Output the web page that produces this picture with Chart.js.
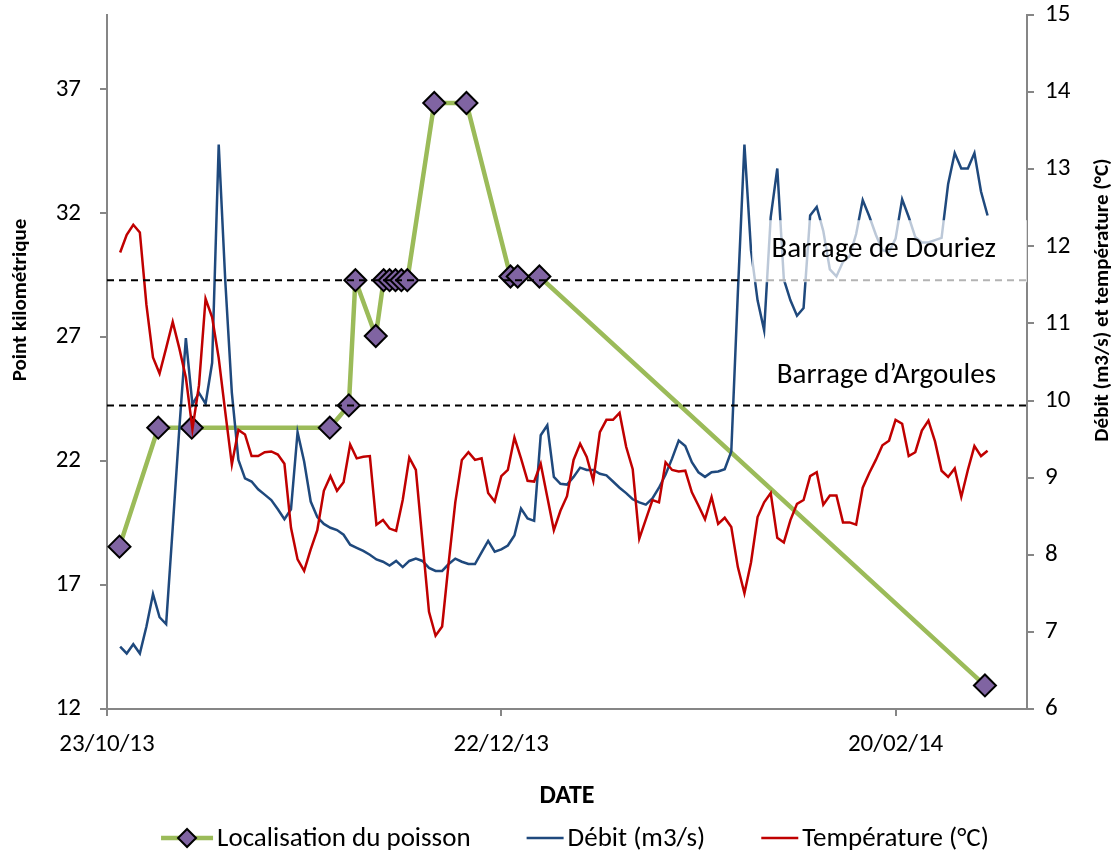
<!DOCTYPE html>
<html>
<head>
<meta charset="utf-8">
<script src="https://cdn.jsdelivr.net/npm/chart.js@4.4.1/dist/chart.umd.min.js"></script>
<style>
  html, body { margin: 0; padding: 0; background: #fff; }
  #wrap { width: 1118px; height: 856px; }
</style>
</head>
<body>
<div id="wrap"><canvas id="myChart" width="1118" height="856"></canvas></div>
<script>
// x values are days counted from 23/10/13
const dateTicks = [0, 60, 120];
const pkTicks = [12, 17, 22, 27, 32, 37];

// fish locations
const fishDays = [1.9, 7.8, 12.9, 33.9, 36.8, 37.8, 40.9, 42.1, 43.0, 43.9, 44.8, 45.7, 49.8, 54.7, 61.4, 62.5, 65.8, 133.6];
const fishPK = [18.55, 23.35, 23.35, 23.35, 24.25, 29.3, 27.05, 29.3, 29.3, 29.3, 29.3, 29.3, 36.45, 36.45, 29.45, 29.45, 29.45, 12.95];

// daily values, the first one is day 2
const firstDay = 2;
const debit = [
  6.81, 6.72, 6.84, 6.72, 7.07, 7.49, 7.19, 7.10, 8.35, 9.63,
  10.81, 9.95, 10.10, 9.96, 10.49, 13.32, 11.55, 10.10, 9.23, 8.99,
  8.95, 8.85, 8.78, 8.71, 8.59, 8.46, 8.59, 9.59, 9.21, 8.69,
  8.49, 8.40, 8.35, 8.32, 8.26, 8.13, 8.09, 8.05, 8.00, 7.94,
  7.91, 7.86, 7.92, 7.84, 7.92, 7.95, 7.92, 7.83, 7.79, 7.79,
  7.88, 7.95, 7.91, 7.88, 7.88, 8.03, 8.18, 8.04, 8.07, 8.12,
  8.25, 8.60, 8.47, 8.44, 9.55, 9.68, 9.01, 8.92, 8.91, 9.01,
  9.13, 9.10, 9.10, 9.05, 9.03, 8.95, 8.87, 8.80, 8.72, 8.68,
  8.65, 8.73, 8.87, 9.04, 9.25, 9.48, 9.41, 9.20, 9.07, 9.01,
  9.07, 9.08, 9.11, 9.34, 11.4, 13.32, 11.95, 11.30, 10.91, 12.38,
  13.01, 11.57, 11.30, 11.10, 11.20, 12.40, 12.51, 12.20, 11.70, 11.61,
  11.80, 11.87, 12.16, 12.60, 12.39, 12.15, 11.95, 11.93, 12.10, 12.61,
  12.38, 12.12, 12.05, 12.05, 12.08, 12.11, 12.81, 13.21, 13.01, 13.01,
  13.21, 12.71, 12.40
];
const temperature = [
  11.92, 12.15, 12.28, 12.18, 11.24, 10.56, 10.35, 10.68, 11.02, 10.68,
  10.30, 9.63, 10.20, 11.32, 11.08, 10.55, 9.85, 9.17, 9.62, 9.56,
  9.28, 9.28, 9.33, 9.34, 9.30, 9.18, 8.35, 7.94, 7.79, 8.07,
  8.32, 8.83, 9.02, 8.83, 8.94, 9.43, 9.25, 9.27, 9.28, 8.39,
  8.45, 8.34, 8.31, 8.71, 9.26, 9.10, 8.18, 7.26, 6.95, 7.07,
  7.90, 8.68, 9.23, 9.33, 9.23, 9.25, 8.80, 8.69, 9.02, 9.10,
  9.52, 9.25, 8.96, 8.95, 9.18, 8.75, 8.32, 8.57, 8.76, 9.23,
  9.44, 9.27, 8.96, 9.59, 9.75, 9.75, 9.84, 9.40, 9.11, 8.21,
  8.46, 8.71, 8.68, 9.20, 9.10, 9.08, 9.09, 8.81, 8.64, 8.46,
  8.75, 8.40, 8.48, 8.36, 7.84, 7.50, 7.90, 8.49, 8.68, 8.80,
  8.22, 8.16, 8.45, 8.66, 8.71, 9.02, 9.07, 8.65, 8.77, 8.77,
  8.42, 8.42, 8.39, 8.87, 9.06, 9.23, 9.42, 9.48, 9.75, 9.70,
  9.28, 9.33, 9.61, 9.74, 9.47, 9.09, 9.01, 9.12, 8.75, 9.10,
  9.41, 9.28, 9.35
];

// dams
const barrages = ['Barrage de Douriez', 'Barrage d\u2019Argoules'];
const barragePK = [29.3, 24.25];

const FONT = 'Carlito, Lato, sans-serif';
const axisGrey = '#868686';

function dateLabel(d) {
  const t = new Date(2013, 9, 23 + d);
  const p = n => String(n).padStart(2, '0');
  return p(t.getDate()) + '/' + p(t.getMonth() + 1) + '/' + String(t.getFullYear()).slice(2);
}

const fishData = fishDays.map((d, i) => ({x: d, y: fishPK[i]}));
const debitData = debit.map((v, i) => ({x: firstDay + i, y: v}));
const tempData = temperature.map((v, i) => ({x: firstDay + i, y: v}));
const damLine = pk => [{x: 0, y: pk}, {x: 140, y: pk}];

// no label padding so the plot area stays where we want it
function noPad(s) {
    s.paddingTop = 0;
    s.paddingBottom = 0;
    s.paddingLeft = 0;
    s.paddingRight = 0;
}

// dam labels, axis titles and legend
const extras = {
    id: 'extras',
    afterDatasetsDraw(chart) {
        const {ctx, chartArea} = chart;
        const y = chart.scales.y;
        const yD = y.getPixelForValue(barragePK[0]);
        ctx.save();
        ctx.fillStyle = 'rgba(255,255,255,0.7)';
        ctx.fillRect(chartArea.right - 275, yD - 60, 275, 62);
        ctx.fillStyle = '#000';
        ctx.font = '29px ' + FONT;
        ctx.textAlign = 'right';
        ctx.textBaseline = 'middle';
        barrages.forEach((t, i) => {
            ctx.fillText(t, chartArea.right - 31, y.getPixelForValue(barragePK[i]) - 30);
        });
        ctx.restore();
    },
    afterDraw(chart) {
        const ctx = chart.ctx;
        ctx.save();
        ctx.fillStyle = '#000';
        ctx.font = 'bold 21px ' + FONT;
        ctx.textAlign = 'center';
        ctx.textBaseline = 'middle';
        [[21, 'Point kilom\u00e9trique'], [1103, 'D\u00e9bit (m3/s) et temp\u00e9rature (\u00b0C)']].forEach(([x, t]) => {
            ctx.save();
            ctx.translate(x, 300);
            ctx.rotate(-Math.PI / 2);
            ctx.fillText(t, 0, 0);
            ctx.restore();
        });

        // legend
        ctx.font = '27px ' + FONT;
        const items = chart.data.datasets.filter(ds => ds.label).map(ds => ({
            ds: ds,
            icon: ds.pointRadius ? 52 : 37,
            w: ctx.measureText(ds.label).width
        }));
        const gap = 56;
        let total = 0;
        items.forEach(it => { total += it.icon + 4 + it.w; });
        total += gap * (items.length - 1);
        let x = 575 - total / 2;
        const ly = 838;
        items.forEach(it => {
            ctx.strokeStyle = it.ds.borderColor;
            ctx.lineWidth = it.ds.borderWidth;
            ctx.beginPath();
            ctx.moveTo(x, ly);
            ctx.lineTo(x + it.icon, ly);
            ctx.stroke();
            if (it.ds.pointRadius) {
                const cx = x + it.icon / 2, r = 9;
                ctx.beginPath();
                ctx.moveTo(cx, ly - r);
                ctx.lineTo(cx + r, ly);
                ctx.lineTo(cx, ly + r);
                ctx.lineTo(cx - r, ly);
                ctx.closePath();
                ctx.fillStyle = it.ds.pointBackgroundColor;
                ctx.fill();
                ctx.lineWidth = 2;
                ctx.strokeStyle = '#000';
                ctx.stroke();
            }
            ctx.fillStyle = '#000';
            ctx.textAlign = 'left';
            ctx.fillText(it.ds.label, x + it.icon + 4, ly + 1);
            x += it.icon + 4 + it.w + gap;
        });
        ctx.restore();
    }
};

const ctx = document.getElementById('myChart');
const myChart = new Chart(ctx, {
    type: 'line',
    data: {
        datasets: [{
            label: 'Localisation du poisson',
            data: fishData,
            borderColor: '#9bbb59',
            borderWidth: 4.5,
            pointStyle: 'rectRot',
            pointRadius: 11,
            pointBackgroundColor: '#8064a2',
            pointBorderColor: '#000',
            pointBorderWidth: 2,
            yAxisID: 'y',
            order: 3
        }, {
            label: 'D\u00e9bit (m3/s)',
            data: debitData,
            borderColor: '#1f497d',
            borderWidth: 2.5,
            pointRadius: 0,
            yAxisID: 'y1',
            order: 2
        }, {
            label: 'Temp\u00e9rature (\u00b0C)',
            data: tempData,
            borderColor: '#c00000',
            borderWidth: 2.5,
            pointRadius: 0,
            yAxisID: 'y1',
            order: 1
        }, {
            data: damLine(barragePK[0]),
            borderColor: '#000',
            borderWidth: 2,
            borderDash: [7, 5],
            pointRadius: 0,
            yAxisID: 'y',
            order: 0
        }, {
            data: damLine(barragePK[1]),
            borderColor: '#000',
            borderWidth: 2,
            borderDash: [7, 5],
            pointRadius: 0,
            yAxisID: 'y',
            order: 0
        }]
    },
    options: {
        responsive: false,
        animation: false,
        layout: {
            autoPadding: false,
            padding: {top: 15, left: 0, right: 0, bottom: 40}
        },
        elements: { line: { tension: 0 } },
        plugins: {
            legend: { display: false },
            tooltip: { enabled: false }
        },
        scales: {
            x: {
                type: 'linear',
                min: 0,
                max: 140,
                afterBuildTicks: s => { s.ticks = dateTicks.map(v => ({value: v})); },
                afterFit: s => { s.height = 107; noPad(s); },
                grid: { drawOnChartArea: false, color: axisGrey, tickLength: 7, lineWidth: 2 },
                border: { color: axisGrey, width: 2 },
                ticks: {
                    color: '#000',
                    font: { family: FONT, size: 25 },
                    padding: 14,
                    maxRotation: 0,
                    callback: v => dateLabel(v)
                },
                title: {
                    display: true,
                    text: 'DATE',
                    color: '#000',
                    font: { family: FONT, size: 26, weight: 'bold' },
                    padding: { top: 0, bottom: 4 }
                }
            },
            y: {
                position: 'left',
                min: 12,
                max: 40,
                afterBuildTicks: s => { s.ticks = pkTicks.map(v => ({value: v})); },
                afterFit: s => { s.width = 107; noPad(s); },
                grid: { drawOnChartArea: false, color: axisGrey, tickLength: 7, lineWidth: 2 },
                border: { color: axisGrey, width: 2 },
                ticks: { color: '#000', font: { family: FONT, size: 25 }, padding: 19 }
            },
            y1: {
                position: 'right',
                min: 6,
                max: 15,
                afterFit: s => { s.width = 91; noPad(s); },
                grid: { drawOnChartArea: false, color: axisGrey, tickLength: 7, lineWidth: 2 },
                border: { color: axisGrey, width: 2 },
                ticks: { stepSize: 1, color: '#000', font: { family: FONT, size: 25 }, padding: 11 }
            }
        }
    },
    plugins: [extras]
});
</script>
</body>
</html>
